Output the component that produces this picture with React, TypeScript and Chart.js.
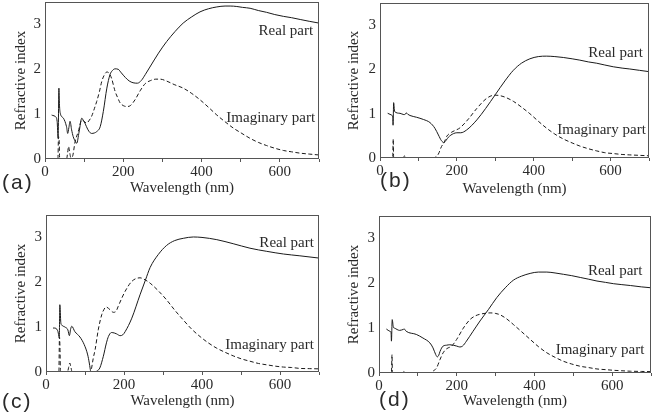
import React, { useEffect, useRef } from "react";
import { Chart, registerables } from "chart.js";
Chart.register(...registerables);

// ---------- data (wavelength in nm, refractive index) ----------
const aRealWl = [17, 20, 26, 31, 33.5, 35.5, 37, 39, 47, 55, 58, 61, 64, 68, 72, 77, 81, 87, 94, 98, 102, 106, 112, 119, 126, 132, 141, 149, 158, 166, 172, 179, 187, 195, 205, 215, 225, 236, 246, 256, 268, 290, 311, 332, 353, 375, 396, 418, 439, 460, 473, 490, 505, 524, 545, 566, 587, 609, 630, 652, 675, 700];
const aRealN = [0.98, 0.97, 0.95, 0.84, 0.46, 1.58, 1.2, 1.02, 0.91, 0.72, 0.57, 0.7, 0.84, 0.65, 0.5, 0.4, 0.35, 0.6, 0.91, 0.86, 0.8, 0.72, 0.62, 0.57, 0.58, 0.61, 0.72, 1.06, 1.58, 1.88, 1.97, 2.01, 2.0, 1.92, 1.82, 1.74, 1.7, 1.69, 1.75, 1.88, 2.05, 2.36, 2.62, 2.84, 3.03, 3.17, 3.28, 3.35, 3.39, 3.41, 3.41, 3.4, 3.38, 3.36, 3.31, 3.27, 3.22, 3.18, 3.15, 3.11, 3.07, 3.03];
const aImagWl = [17, 33, 34.5, 36, 37.5, 55, 58, 60, 63, 66, 70, 77, 85, 94, 100, 106, 112, 119, 126, 132, 139, 145, 152, 158, 163, 170, 179, 186, 192, 200, 209, 218, 230, 243, 256, 270, 283, 294, 310, 330, 353, 375, 396, 418, 439, 460, 481, 503, 524, 545, 566, 587, 609, 630, 652, 675, 700];
const aImagN = [0, 0, 0.5, 0.45, 0, 0, 0.15, 0.28, 0.15, 0.03, 0.05, 0.39, 0.61, 0.87, 0.84, 0.8, 0.85, 0.95, 1.12, 1.28, 1.5, 1.73, 1.88, 1.94, 1.92, 1.8, 1.51, 1.36, 1.25, 1.19, 1.17, 1.19, 1.32, 1.52, 1.68, 1.75, 1.78, 1.78, 1.74, 1.66, 1.58, 1.46, 1.32, 1.15, 0.98, 0.83, 0.69, 0.57, 0.46, 0.37, 0.3, 0.24, 0.19, 0.16, 0.13, 0.11, 0.09];

const bRealWl = [20, 30, 33, 34, 35.5, 38, 52, 62, 66, 68, 72, 78, 95, 113, 130, 143, 152, 160, 166, 172, 178, 191, 200, 210, 225, 252, 275, 300, 325, 347, 368, 390, 412, 434, 455, 477, 500, 520, 542, 564, 585, 607, 630, 650, 675, 700];
const bRealN = [1.01, 0.97, 0.93, 0.74, 1.25, 1.05, 1.01, 0.98, 0.99, 1.02, 0.99, 0.96, 0.92, 0.87, 0.8, 0.67, 0.52, 0.39, 0.35, 0.4, 0.47, 0.55, 0.57, 0.57, 0.63, 0.86, 1.12, 1.43, 1.74, 1.98, 2.14, 2.24, 2.29, 2.3, 2.29, 2.27, 2.24, 2.21, 2.17, 2.14, 2.1, 2.06, 2.03, 2.01, 1.98, 1.95];
const bImagWl = [20, 33, 34.5, 35.5, 60, 64, 68, 140, 146, 152, 160, 167, 173, 186, 200, 208, 230, 252, 278, 299, 320, 347, 368, 390, 412, 434, 455, 477, 500, 520, 542, 564, 585, 607, 630, 650, 675, 700];
const bImagN = [0, 0, 0.43, 0, 0, 0.05, 0, 0, 0.03, 0.09, 0.26, 0.35, 0.48, 0.58, 0.64, 0.68, 0.88, 1.12, 1.35, 1.42, 1.39, 1.28, 1.15, 1.0, 0.83, 0.67, 0.54, 0.43, 0.34, 0.27, 0.21, 0.16, 0.12, 0.1, 0.08, 0.07, 0.06, 0.05];

const cRealWl = [18, 21, 30, 33, 34, 35.5, 38, 40, 49, 56, 60, 63, 66, 74, 87, 98, 107, 111, 113, 115, 125, 132, 138, 147, 155, 160, 168, 175, 181, 190, 197, 203, 220, 241, 255, 267, 288, 309, 330, 352, 378, 400, 438, 480, 523, 566, 609, 651, 700];
const cRealN = [0.98, 0.98, 0.92, 0.8, 0.76, 1.5, 1.1, 1.05, 1.0, 0.94, 0.81, 0.95, 1.02, 0.9, 0.78, 0.61, 0.38, 0.2, 0.09, 0.0, 0.0, 0.03, 0.09, 0.35, 0.65, 0.79, 0.88, 0.87, 0.85, 0.81, 0.83, 0.9, 1.2, 1.72, 2.05, 2.33, 2.62, 2.82, 2.93, 2.98, 3.01, 3.0, 2.95, 2.86, 2.76, 2.69, 2.63, 2.59, 2.54];
const cImagWl = [18, 33, 34.5, 36, 37, 55, 58, 61, 64, 67, 115, 117, 121, 126, 134, 143, 149, 154, 164, 173, 180, 185, 194, 203, 220, 241, 255, 267, 288, 309, 330, 352, 373, 395, 416, 438, 459, 480, 502, 523, 545, 566, 588, 609, 630, 651, 675, 700];
const cImagN = [0, 0, 0.78, 0.5, 0, 0, 0.1, 0.2, 0.1, 0, 0, 0.09, 0.3, 0.5, 0.94, 1.28, 1.4, 1.45, 1.39, 1.33, 1.36, 1.46, 1.64, 1.8, 2.02, 2.1, 2.05, 1.98, 1.81, 1.61, 1.38, 1.16, 0.96, 0.79, 0.65, 0.53, 0.44, 0.36, 0.29, 0.24, 0.19, 0.16, 0.13, 0.11, 0.1, 0.08, 0.075, 0.07];

const dRealWl = [19, 28, 31, 32, 34, 37, 40, 53, 62, 65, 70, 96, 113, 131, 139, 146, 150, 154, 157, 165, 174, 182, 200, 208, 215, 225, 242, 260, 282, 303, 325, 346, 367, 389, 410, 432, 453, 475, 496, 518, 540, 561, 583, 604, 625, 647, 675, 700];
const dRealN = [0.98, 0.93, 0.9, 0.71, 1.19, 1.02, 1.0, 0.95, 0.97, 0.98, 0.93, 0.86, 0.78, 0.67, 0.56, 0.41, 0.36, 0.4, 0.48, 0.6, 0.62, 0.63, 0.6, 0.58, 0.6, 0.71, 0.93, 1.16, 1.42, 1.68, 1.9, 2.07, 2.16, 2.22, 2.25, 2.25, 2.23, 2.2, 2.17, 2.13, 2.09, 2.05, 2.02, 1.99, 1.97, 1.95, 1.92, 1.9];
const dImagWl = [19, 32, 33.5, 34.5, 60, 64, 68, 135, 139, 148, 157, 165, 174, 187, 200, 217, 234, 247, 260, 273, 286, 299, 311, 328, 346, 367, 389, 410, 432, 453, 475, 496, 518, 540, 561, 583, 604, 625, 647, 675, 700];
const dImagN = [0, 0, 0.41, 0, 0, 0.03, 0, 0, 0.04, 0.11, 0.3, 0.45, 0.54, 0.6, 0.75, 1.0, 1.19, 1.27, 1.31, 1.33, 1.34, 1.33, 1.3, 1.21, 1.08, 0.92, 0.75, 0.59, 0.45, 0.35, 0.26, 0.2, 0.15, 0.12, 0.09, 0.075, 0.06, 0.05, 0.04, 0.035, 0.03];

const xTickValues = [0, 100, 200, 300, 400, 500, 600, 700];
const yTickValues = [0, 1, 2, 3];
const panelLetters = ["(a)", "(b)", "(c)", "(d)"];
const realLabel = "Real part";
const imagLabel = "Imaginary part";
const xTitle = "Wavelength (nm)";
const yTitle = "Refractive index";

// ---------- layout per panel ----------
const W = 333;
const H = 208;
const panels = [
  { letter: panelLetters[0], rw: aRealWl, rn: aRealN, iw: aImagWl, inn: aImagN, left: 0, top: 0, L: 45, T: 2, R: 14, XH: 49, xtPad: 11, letterXY: [2, 183], realAt: [685, 2.86], imagAt: [690, 0.92] },
  { letter: panelLetters[1], rw: bRealWl, rn: bRealN, iw: bImagWl, inn: bImagN, left: 333, top: 0, L: 47, T: 3, R: 17, XH: 50, xtPad: 10, letterXY: [47, 181], realAt: [684, 2.37], imagAt: [692, 0.63] },
  { letter: panelLetters[2], rw: cRealWl, rn: cRealN, iw: cImagWl, inn: cImagN, left: 0, top: 208, L: 46, T: 7, R: 14, XH: 44, xtPad: 6, letterXY: [2, 194], realAt: [687, 2.88], imagAt: [687, 0.59] },
  { letter: panelLetters[3], rw: dRealWl, rn: dRealN, iw: dImagWl, inn: dImagN, left: 333, top: 208, L: 46, T: 8, R: 15, XH: 43, xtPad: 6, letterXY: [46, 192], realAt: [678, 2.27], imagAt: [683, 0.52] },
];

const serif = "'Liberation Serif', 'Times New Roman', serif";
const textColor = "#2a2a2a";
const frameColor = "#555";

Chart.defaults.font.family = serif;
Chart.defaults.font.size = 15;
Chart.defaults.color = textColor;

function Panel({ p }: { p: any }) {
  const ref = useRef<HTMLCanvasElement | null>(null);
  useEffect(() => {
    if (!ref.current) return;
    const mkFont = () => ({ family: serif, size: 15, weight: "normal" as const });
    const decor = {
      id: "decor",
      afterDatasetsDraw(chart: any) {
        const { ctx, chartArea } = chart;
        ctx.save();
        ctx.strokeStyle = frameColor;
        ctx.lineWidth = 1;
        const l = Math.round(chartArea.left) + 0.5;
        const t = Math.round(chartArea.top) + 0.5;
        const r = Math.round(chartArea.right) - 0.5;
        const b = Math.round(chartArea.bottom) - 0.5;
        ctx.strokeRect(l, t, r - l, b - t);
        const xs = chart.scales.x;
        const ys = chart.scales.y;
        ctx.fillStyle = textColor;
        ctx.font = `15px ${serif}`;
        ctx.textAlign = "right";
        ctx.textBaseline = "middle";
        ctx.fillText(realLabel, xs.getPixelForValue(p.realAt[0]), ys.getPixelForValue(p.realAt[1]));
        ctx.fillText(imagLabel, xs.getPixelForValue(p.imagAt[0]), ys.getPixelForValue(p.imagAt[1]));
        ctx.font = `21px 'Liberation Sans', Arial, sans-serif`;
        try {
          (ctx as any).letterSpacing = "2px";
        } catch (e) {}
        ctx.textAlign = "left";
        ctx.fillText(p.letter, p.letterXY[0], p.letterXY[1]);
        ctx.restore();
      },
    };
    const chart = new Chart(ref.current, {
      type: "line",
      data: {
        datasets: [
          {
            label: realLabel,
            data: p.rw.map((x: number, i: number) => ({ x, y: p.rn[i] })),
            borderColor: "#1a1a1a",
            borderWidth: 1,
            pointRadius: 0,
            cubicInterpolationMode: "monotone",
            fill: false,
          },
          {
            label: imagLabel,
            data: p.iw.map((x: number, i: number) => ({ x, y: p.inn[i] })),
            borderColor: "#1a1a1a",
            borderWidth: 1,
            borderDash: [4, 2.5],
            pointRadius: 0,
            cubicInterpolationMode: "monotone",
            fill: false,
          },
        ],
      },
      options: {
        animation: false,
        responsive: false,
        layout: { padding: { left: 0, top: p.T, right: p.R, bottom: 0 } },
        plugins: { legend: { display: false }, tooltip: { enabled: false } },
        scales: {
          x: {
            type: "linear",
            min: 0,
            max: 700,
            afterBuildTicks: (s: any) => {
              s.ticks = xTickValues.map((v) => ({ value: v }));
            },
            afterFit: (s: any) => {
              s.height = p.XH;
              s.paddingLeft = 0;
              s.paddingRight = 0;
            },
            ticks: {
              font: mkFont(),
              color: textColor,
              padding: 1,
              maxRotation: 0,
              autoSkip: false,
              callback: (v: any) => (Number(v) % 200 === 0 ? String(v) : ""),
            },
            grid: { drawOnChartArea: false, drawTicks: true, tickLength: 3, color: frameColor },
            border: { display: false },
            title: { display: true, text: xTitle, font: mkFont(), color: textColor, padding: { top: 0, bottom: p.xtPad } },
          },
          y: {
            min: 0,
            max: 3.5,
            afterBuildTicks: (s: any) => {
              s.ticks = yTickValues.map((v) => ({ value: v }));
            },
            afterFit: (s: any) => {
              s.width = p.L;
              s.paddingTop = 0;
              s.paddingBottom = 0;
            },
            ticks: { font: mkFont(), color: textColor, padding: 4 },
            grid: { drawOnChartArea: false, drawTicks: false },
            border: { display: false },
            title: { display: true, text: yTitle, font: mkFont(), color: textColor, padding: { top: 12, bottom: 0 } },
          },
        },
      },
      plugins: [decor],
    } as any);
    return () => chart.destroy();
  }, [p]);
  return (
    <canvas
      ref={ref}
      width={W}
      height={H}
      style={{ position: "absolute", left: p.left, top: p.top, width: W, height: H }}
    />
  );
}

export default function App() {
  return (
    <div style={{ position: "absolute", left: 0, top: 0, width: 666, height: 416, background: "#fff" }}>
      {panels.map((p, i) => (
        <Panel key={i} p={p} />
      ))}
    </div>
  );
}
